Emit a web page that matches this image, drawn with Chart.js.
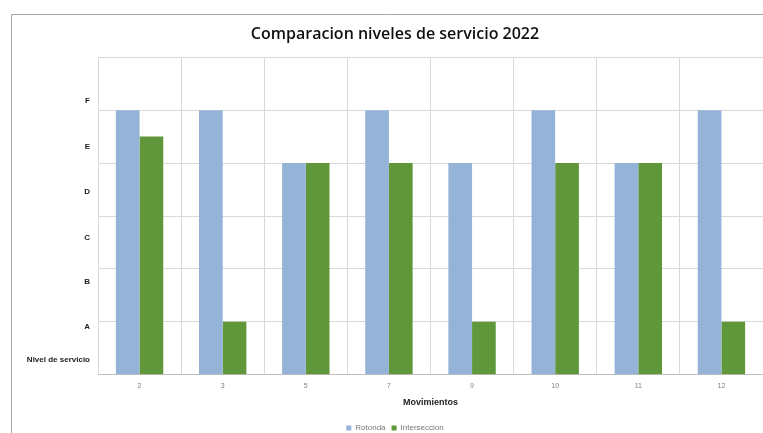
<!DOCTYPE html>
<html>
<head>
<meta charset="utf-8">
<script src="https://cdn.jsdelivr.net/npm/chart.js@4.4.1/dist/chart.umd.min.js"></script>
<style>
  html, body { margin: 0; padding: 0; background: #fff; }
  #wrap { position: relative; width: 763px; height: 433px; }
</style>
</head>
<body>
<div id="wrap"><canvas id="grafico" width="763" height="433"></canvas></div>
<script>
// datos
const movimientos = ['2', '3', '5', '7', '9', '10', '11', '12'];
const rotonda = [5, 5, 4, 5, 4, 5, 4, 5];
const interseccion = [4.5, 1, 4, 4, 1, 4, 4, 1];
// etiquetas del eje vertical (puestas a mano en el original)
const nivelesPos = [0.28, 0.91, 1.75, 2.58, 3.46, 4.31, 5.18];
const nivelesTxt = ['Nivel de servicio', 'A', 'B', 'C', 'D', 'E', 'F'];

const marco = {
    id: 'marco',
    beforeDraw(chart) {
        const c = chart.ctx;
        c.save();
        c.strokeStyle = '#a6a6a6';
        c.lineWidth = 1;
        c.beginPath();
        c.moveTo(11.5, 433);
        c.lineTo(11.5, 14.5);
        c.lineTo(763, 14.5);
        c.stroke();
        c.restore();
    }
};

const ctx = document.getElementById('grafico');
new Chart(ctx, {
    type: 'bar',
    data: {
        labels: movimientos,
        datasets: [{
            label: 'Rotonda',
            data: rotonda,
            backgroundColor: '#95B3D7',
            yAxisID: 'y'
        }, {
            label: 'Interseccion',
            data: interseccion,
            backgroundColor: '#60973A',
            yAxisID: 'y'
        }]
    },
    options: {
        responsive: false,
        animation: false,
        devicePixelRatio: 1,
        barPercentage: 1,
        categoryPercentage: 0.57,
        layout: { padding: { left: 27, right: 0, top: 0, bottom: -9 } },
        plugins: {
            title: {
                display: true,
                text: 'Comparacion niveles de servicio 2022',
                color: '#111',
                font: { family: 'Open Sans', size: 16, weight: '600' },
                padding: { top: 25, bottom: 13 }
            },
            legend: {
                position: 'bottom',
                labels: {
                    boxWidth: 5,
                    boxHeight: 5,
                    padding: 6,
                    color: '#777',
                    font: { family: 'Liberation Sans', size: 8 }
                }
            },
            tooltip: { enabled: false }
        },
        scales: {
            yl: {
                type: 'linear',
                position: 'left',
                min: 0,
                max: 6,
                grid: { display: false, drawTicks: false },
                border: { display: false },
                afterBuildTicks: (s) => { s.ticks = nivelesPos.map(v => ({ value: v })); },
                afterFit: (s) => { s.width = 71; },
                ticks: {
                    autoSkip: false,
                    padding: 8,
                    color: '#222',
                    font: { family: 'Liberation Sans', size: 8, weight: 'bold' },
                    callback: (v, i) => nivelesTxt[i]
                }
            },
            y: {
                position: 'left',
                min: 0,
                max: 6,
                grid: { color: '#d9d9d9', drawTicks: false },
                border: { display: false },
                afterFit: (s) => { s.width = 0; },
                ticks: { display: false, stepSize: 1 }
            },
            x: {
                grid: { color: '#d9d9d9', drawTicks: false },
                border: { color: '#bfbfbf' },
                ticks: {
                    padding: 7,
                    color: '#808080',
                    font: { family: 'Liberation Sans', size: 7 }
                },
                title: {
                    display: true,
                    text: 'Movimientos',
                    color: '#222',
                    font: { family: 'Liberation Sans', size: 9, weight: 'bold' },
                    padding: { top: 0, bottom: 10 }
                }
            }
        }
    },
    plugins: [marco]
});
</script>
</body>
</html>
